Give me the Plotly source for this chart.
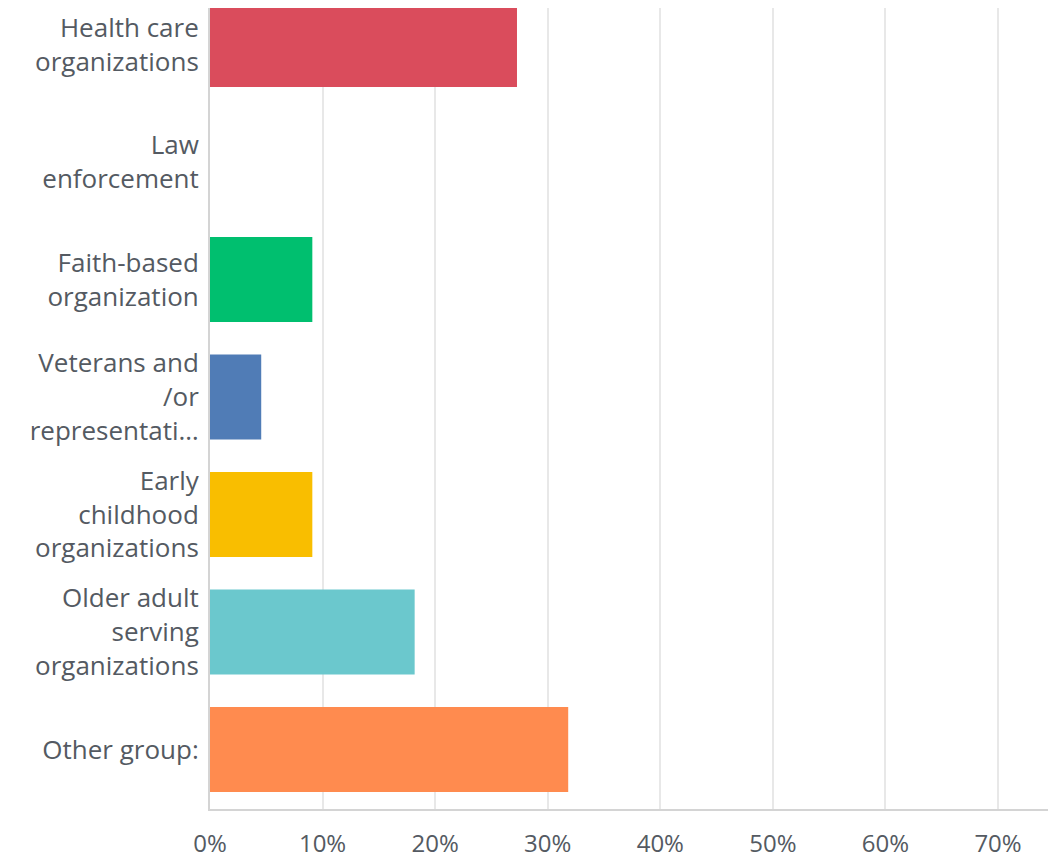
import plotly.graph_objects as go

categories = [
    "Health care<br>organizations",
    "Law<br>enforcement",
    "Faith-based<br>organization",
    "Veterans and<br>/or<br>representati…",
    "Early<br>childhood<br>organizations",
    "Older adult<br>serving<br>organizations",
    "Other group:",
]
values = [27.27, 0.0, 9.09, 4.55, 9.09, 18.18, 31.82]
colors = ["#DA4C5C", "#C0C0C0", "#00BF6F", "#507CB6", "#F9BE00", "#6BC8CD", "#FF8B4F"]
tick_vals = [0, 10, 20, 30, 40, 50, 60, 70]
tick_text = ["0%", "10%", "20%", "30%", "40%", "50%", "60%", "70%"]

FONT = "Open Sans, sans-serif"
TXT = "#545a62"

fig = go.Figure(
    go.Bar(
        x=values,
        y=categories,
        orientation="h",
        marker=dict(color=colors, line=dict(width=0)),
        width=0.723,
        hoverinfo="x+y",
    )
)

# page body has an 8px default margin, so the figure is sized to fit
fig.update_layout(
    width=1053,
    height=852,
    margin=dict(l=202, r=13, t=0, b=51),
    paper_bgcolor="white",
    plot_bgcolor="white",
    showlegend=False,
    font=dict(family=FONT, color=TXT),
)

fig.update_xaxes(
    range=[0, 74.44],
    tickvals=tick_vals,
    ticktext=tick_text,
    showgrid=True,
    gridcolor="#e8e8e8",
    gridwidth=1.5,
    zeroline=False,
    showline=True,
    linecolor="#d4d4d4",
    linewidth=2,
    ticks="",
    ticklabelstandoff=12,
    automargin=False,
    tickfont=dict(size=24, family=FONT, color=TXT),
)

fig.update_yaxes(
    type="category",
    categoryorder="array",
    categoryarray=categories,
    range=[6.506, -0.311],
    showgrid=False,
    zeroline=False,
    showline=True,
    linecolor="#d4d4d4",
    linewidth=2,
    ticks="",
    ticklabelstandoff=4,
    automargin=False,
    tickfont=dict(size=26, family=FONT, color=TXT),
)

fig.write_html("out.html")
